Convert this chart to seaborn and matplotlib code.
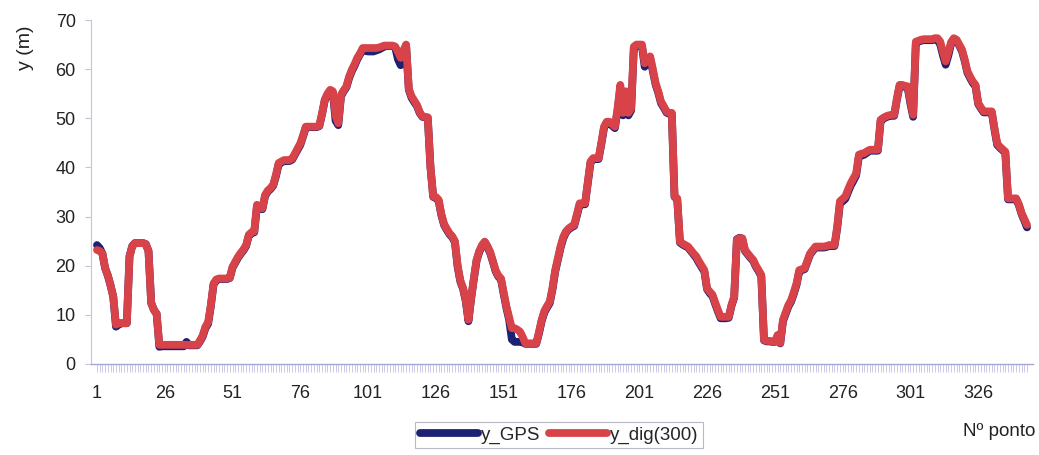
import numpy as np
import pandas as pd
import seaborn as sns
import matplotlib.pyplot as plt

# Digitised coordinate y (m) for each surveyed point
y_dig = [
    23.2, 23.0, 22.5, 19.5, 18.0, 16.0, 13.7, 8.0, 8.3, 8.3,
    8.3, 8.3, 21.9, 24.0, 24.6, 24.6, 24.6, 24.6, 24.4, 23.0,
    12.4, 11.0, 10.2, 3.9, 3.9, 3.9, 3.9, 3.9, 3.9, 3.9,
    3.9, 3.9, 3.9, 3.9, 3.9, 3.9, 3.9, 3.9, 4.8, 5.8,
    7.6, 8.5, 12.0, 16.4, 17.2, 17.4, 17.4, 17.4, 17.4, 17.6,
    19.8, 20.8, 21.8, 22.6, 23.3, 24.2, 26.3, 26.8, 27.0, 32.4,
    32.0, 31.7, 34.4, 35.3, 35.8, 36.5, 38.5, 40.9, 41.2, 41.5,
    41.5, 41.5, 41.8, 42.8, 43.9, 44.9, 46.5, 48.3, 48.3, 48.3,
    48.3, 48.3, 48.5, 51.0, 53.8, 55.0, 55.8, 55.5, 50.5, 49.0,
    54.8, 55.7, 56.5, 58.5, 59.9, 61.0, 62.3, 63.2, 64.3, 64.3,
    64.3, 64.3, 64.3, 64.3, 64.4, 64.6, 64.8, 64.8, 64.8, 64.8,
    64.6, 63.5, 62.3, 63.8, 65.0, 56.0, 54.5, 53.6, 52.7, 51.3,
    50.4, 50.3, 50.2, 40.0, 34.1, 34.0, 33.4, 30.5, 28.5, 27.5,
    26.6, 26.0, 25.0, 20.0, 17.0, 15.5, 13.0, 9.0, 13.5, 17.5,
    21.2, 23.0, 24.2, 24.9, 24.0, 22.8, 21.0, 19.1, 18.0, 17.4,
    14.5, 11.7, 9.5, 7.3, 7.3, 7.0, 6.6, 5.5, 4.2, 4.2,
    4.2, 4.2, 4.2, 6.5, 9.0, 10.8, 11.8, 12.7, 15.5, 19.1,
    21.5, 24.0, 25.9, 27.0, 27.6, 28.0, 28.3, 30.5, 32.7, 32.7,
    32.7, 37.0, 41.2, 41.9, 41.9, 41.9, 45.0, 48.3, 49.3, 49.3,
    48.8, 48.3, 52.0, 56.8, 51.1, 55.5, 51.1, 52.0, 64.6, 65.0,
    65.0, 65.0, 61.2, 62.0, 62.6, 60.0, 57.2, 55.5, 53.4, 52.5,
    51.4, 51.1, 51.1, 34.1, 33.7, 24.9, 24.5, 24.2, 23.9, 23.2,
    22.5, 21.9, 20.9, 20.0, 19.1, 15.4, 14.7, 14.1, 12.5, 11.0,
    9.6, 9.6, 9.6, 9.6, 12.0, 13.7, 25.3, 25.6, 25.6, 23.2,
    22.5, 21.8, 21.2, 20.0, 19.1, 18.1, 4.9, 4.7, 4.7, 4.6,
    4.5, 5.9, 4.3, 9.0, 10.5, 12.0, 13.0, 14.6, 16.4, 19.1,
    19.3, 19.5, 21.0, 22.5, 23.2, 23.9, 23.9, 23.9, 23.9, 24.0,
    24.2, 24.2, 24.2, 28.0, 33.1, 33.6, 34.1, 35.5, 36.8, 37.8,
    38.8, 42.6, 42.8, 42.9, 43.3, 43.6, 43.6, 43.6, 43.6, 49.7,
    50.1, 50.4, 50.6, 50.7, 50.7, 54.0, 56.8, 56.8, 56.6, 56.5,
    53.5, 50.7, 65.6, 65.8, 66.0, 66.1, 66.1, 66.1, 66.1, 66.3,
    66.3, 65.6, 63.5, 61.6, 63.5, 65.5, 66.3, 66.0, 65.0, 64.0,
    62.0, 59.6, 58.5, 57.5, 56.8, 53.1, 52.2, 51.4, 51.4, 51.4,
    51.4, 48.0, 44.9, 44.2, 43.7, 43.2, 33.7, 33.7, 33.7, 33.7,
    32.5, 30.7, 29.5, 28.3,
]

# GPS coordinate y (m) for the same points
y_gps = [
    24.2, 23.6, 22.5, 19.5, 18.0, 16.0, 13.7, 7.6, 8.0, 8.3,
    8.3, 8.3, 21.9, 24.0, 24.6, 24.6, 24.6, 24.6, 24.4, 23.0,
    12.4, 11.0, 10.2, 3.5, 3.6, 3.6, 3.6, 3.6, 3.6, 3.6,
    3.6, 3.6, 3.6, 4.5, 3.8, 3.8, 3.8, 3.8, 4.6, 5.6,
    7.3, 8.2, 11.8, 16.2, 17.0, 17.3, 17.3, 17.3, 17.3, 17.5,
    19.6, 20.6, 21.6, 22.4, 23.1, 24.0, 26.1, 26.6, 26.8, 32.0,
    31.8, 31.5, 34.2, 35.1, 35.6, 36.3, 38.2, 40.6, 41.0, 41.3,
    41.3, 41.3, 41.6, 42.6, 43.6, 44.6, 46.3, 48.1, 48.2, 48.2,
    48.2, 48.2, 48.4, 50.8, 53.6, 54.8, 55.6, 55.2, 49.5, 48.6,
    54.5, 55.5, 56.3, 58.2, 59.6, 60.7, 62.0, 63.0, 63.8, 63.7,
    63.6, 63.6, 63.6, 63.8, 64.0, 64.3, 64.6, 64.7, 64.7, 64.7,
    64.4, 62.0, 60.8, 62.5, 64.8, 55.8, 54.2, 53.3, 52.5, 51.1,
    50.3, 50.2, 50.1, 40.0, 34.0, 33.8, 33.2, 30.3, 28.3, 27.3,
    26.4, 25.8, 24.8, 19.8, 16.8, 15.3, 12.8, 8.7, 13.3, 17.3,
    21.0, 22.8, 24.0, 24.8, 23.8, 22.6, 20.8, 18.9, 17.8, 17.2,
    14.2, 11.4, 9.0, 5.0, 4.5, 4.5, 4.5, 4.4, 4.1, 4.1,
    4.1, 4.1, 4.1, 6.2, 8.7, 10.5, 11.5, 12.4, 15.2, 18.8,
    21.2, 23.7, 25.6, 26.8, 27.4, 27.8, 28.1, 30.2, 32.4, 32.5,
    32.5, 36.7, 40.9, 41.7, 41.7, 41.7, 44.7, 48.0, 49.1, 49.1,
    48.5, 48.0, 51.5, 56.0, 50.6, 54.8, 50.6, 51.6, 64.3, 64.8,
    64.8, 64.6, 60.5, 61.6, 62.3, 59.6, 56.9, 55.2, 53.1, 52.2,
    51.2, 50.9, 50.9, 34.0, 33.5, 24.7, 24.3, 24.0, 23.7, 23.0,
    22.3, 21.6, 20.6, 19.7, 18.8, 15.2, 14.4, 13.8, 12.2, 10.7,
    9.3, 9.3, 9.3, 9.4, 11.8, 13.5, 25.4, 25.7, 25.4, 23.0,
    22.3, 21.6, 21.0, 19.8, 18.9, 17.9, 4.8, 4.6, 4.6, 4.5,
    4.5, 5.4, 4.2, 8.7, 10.2, 11.7, 12.7, 14.3, 16.1, 18.8,
    19.1, 19.3, 20.8, 22.3, 23.0, 23.7, 23.7, 23.7, 23.7, 23.8,
    24.0, 24.0, 24.0, 27.6, 32.6, 33.1, 33.6, 35.0, 36.3, 37.3,
    38.4, 42.2, 42.4, 42.6, 43.0, 43.4, 43.4, 43.4, 43.4, 49.4,
    49.9, 50.2, 50.4, 50.5, 50.5, 53.7, 56.5, 56.6, 56.4, 56.2,
    53.0, 50.3, 65.3, 65.6, 65.8, 65.9, 65.9, 65.9, 65.9, 66.0,
    66.0, 65.0, 62.8, 60.9, 62.8, 65.2, 66.1, 65.8, 64.8, 63.7,
    61.7, 59.3, 58.2, 57.2, 56.5, 52.9, 52.0, 51.2, 51.2, 51.2,
    51.2, 47.7, 44.6, 44.0, 43.5, 43.0, 33.5, 33.5, 33.5, 33.5,
    32.3, 30.5, 29.2, 27.8,
]

series_names = ["y_GPS", "y_dig(300)"]
series_colors = ["#1b2173", "#d8434a"]
tick_points = [1, 26, 51, 76, 101, 126, 151, 176, 201, 226, 251, 276, 301, 326]
y_ticks = [0, 10, 20, 30, 40, 50, 60, 70]

n = len(y_dig)
ponto = np.arange(1, n + 1)
df = pd.concat([
    pd.DataFrame({"ponto": ponto, "y": y_gps, "serie": series_names[0]}),
    pd.DataFrame({"ponto": ponto, "y": y_dig, "serie": series_names[1]}),
], ignore_index=True)

sns.set_style("white")
plt.rcParams["font.family"] = ["Liberation Sans", "DejaVu Sans"]

fig = plt.figure(figsize=(10.39, 4.55), dpi=100)
ax = fig.add_axes([0.0876, 0.2, 0.9066, 0.756])

sns.lineplot(data=df, x="ponto", y="y", hue="serie", hue_order=series_names,
             palette=series_colors, linewidth=5.6, estimator=None, sort=False,
             ax=ax)
for line in ax.get_lines():
    line.set_solid_joinstyle("round")
    line.set_solid_capstyle("round")

axis_col = "#a6a6d6"
ax.set_xlim(-1.2, n + 2.2)
ax.set_ylim(0, 70)
ax.set_yticks(y_ticks)
ax.set_xticks(tick_points)
ax.set_xticklabels([str(t) for t in tick_points])
ax.set_xticks(ponto, minor=True)
ax.tick_params(axis="x", which="both", bottom=True, direction="out",
               length=6, width=0.5, color="#b4b4e0", pad=9, labelsize=13,
               labelcolor="#222222")
ax.tick_params(axis="y", which="major", left=True, direction="out", length=4,
               width=0.8, color="#c4c4dc", pad=7, labelsize=13,
               labelcolor="#222222")
for side in ["top", "right"]:
    ax.spines[side].set_visible(False)
ax.spines["left"].set_color("#c4c4dc")
ax.spines["left"].set_linewidth(0.8)
ax.spines["bottom"].set_color(axis_col)
ax.spines["bottom"].set_linewidth(1.0)
ax.set_xlabel("")
ax.set_ylabel("")
ax.grid(False)

handles, labels = ax.get_legend_handles_labels()
ax.get_legend().remove()
for h in handles:
    h.set_linewidth(5.6)
    h.set_solid_capstyle("round")
leg = fig.legend(handles, labels, loc="center", bbox_to_anchor=(0.538, 0.044),
                 ncol=2, fontsize=13.5, frameon=True, fancybox=False,
                 handlelength=3.1, handletextpad=0.15, columnspacing=0.45,
                 borderpad=0.25, borderaxespad=0)
leg.get_frame().set_edgecolor("#a8a8b8")
leg.get_frame().set_linewidth(0.8)

fig.text(25 / 1039, 1 - 48 / 455, "y (m)", rotation=90, ha="center",
         va="center", fontsize=14, color="#222222")
fig.text(1035 / 1039, 1 - 432 / 455, "Nº ponto", ha="right", va="center",
         fontsize=13.5, color="#222222")

fig.savefig("out.png", dpi=100)
